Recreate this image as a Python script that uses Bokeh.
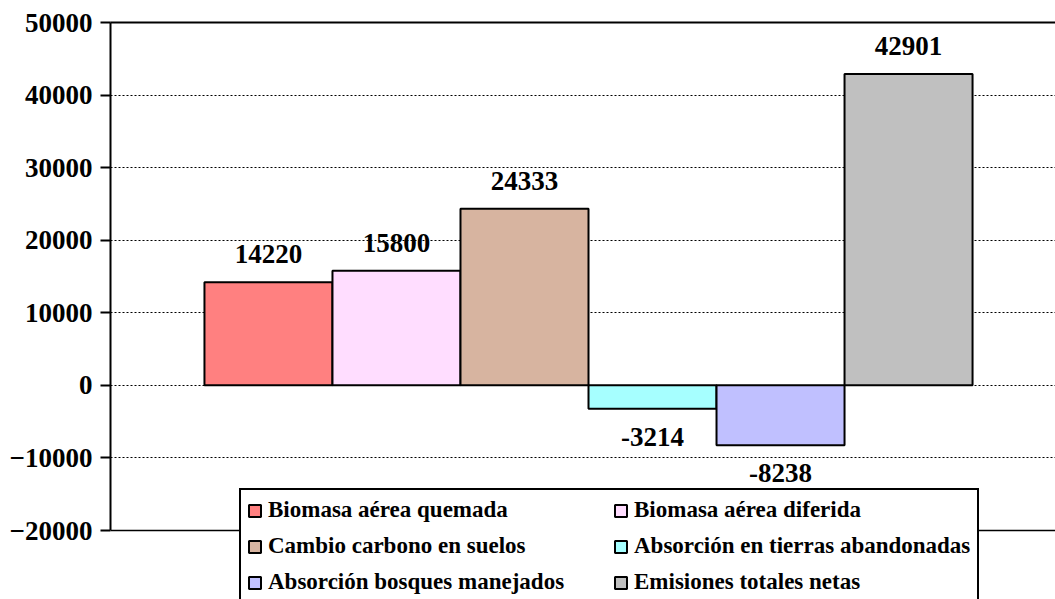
import numpy as np
from bokeh.plotting import figure
from bokeh.models import ColumnDataSource, Range1d, LinearAxis, FixedTicker, Span
from bokeh.core.properties import value
from bokeh.embed import file_html
from bokeh.resources import INLINE

categories = ["Biomasa aérea quemada", "Biomasa aérea diferida", "Cambio carbono en suelos",
              "Absorción en tierras abandonadas", "Absorción bosques manejados", "Emisiones totales netas"]
values = [14220, 15800, 24333, -3214, -8238, 42901]
colors = ["#FF8080", "#FFDDFF", "#D7B4A0", "#A6FFFF", "#C0C0FF", "#C0C0C0"]
y_ticks = [-20000, -10000, 0, 10000, 20000, 30000, 40000, 50000]
y_min, y_max = -20000, 50000

FONT = "Liberation Serif"

vals = np.array(values)
src = ColumnDataSource(dict(
    x=list(range(len(values))),
    top=values,
    color=colors,
    label=categories,
    txt=[str(v) for v in values],
    yoff=np.where(vals >= 0, -28, 28).tolist(),
))

# frame: top at 22px, y_min at 530px, extended down to canvas bottom (599px)
px_per_unit = (530 - 22) / (y_max - y_min)
y_lo = y_min - (599 - 530) / px_per_unit

p = figure(width=1055, height=599, output_backend="svg", toolbar_location=None,
           x_range=Range1d(-1.234, 6.148), y_range=Range1d(y_lo, y_max),
           min_border_left=110, min_border_right=0, min_border_top=22, min_border_bottom=0)
p.outline_line_color = None
p.background_fill_color = "white"
p.border_fill_color = "white"
p.xaxis.visible = False

# y axis
p.yaxis.ticker = FixedTicker(ticks=y_ticks)
p.yaxis.bounds = (y_min, y_max)
p.yaxis.axis_line_width = 2
p.yaxis.major_tick_line_width = 2
p.yaxis.major_tick_out = 10
p.yaxis.major_tick_in = 0
p.yaxis.minor_tick_line_color = None
p.yaxis.major_label_text_font = FONT
p.yaxis.major_label_text_font_style = "bold"
p.yaxis.major_label_text_font_size = "27px"
p.yaxis.major_label_text_color = "black"
p.yaxis.major_label_standoff = 8

top_axis = LinearAxis(ticker=FixedTicker(ticks=[]), axis_line_width=2,
                      major_label_text_font_size="0px", minor_tick_line_color=None,
                      major_tick_line_color=None)
p.add_layout(top_axis, "above")

bottom_line = Span(location=y_min, dimension="width", line_color="black",
                   line_width=1.5, level="underlay")
p.add_layout(bottom_line)

p.xgrid.visible = False
p.ygrid.ticker = FixedTicker(ticks=[t for t in y_ticks if y_min < t < y_max])
p.ygrid.grid_line_color = "black"
p.ygrid.grid_line_dash = "2 2"
p.ygrid.grid_line_width = 1.2

p.vbar(x="x", top="top", bottom=0, width=1.0, source=src, fill_color="color",
       line_color="black", line_width=2, legend_field="label")

p.text(x="x", y="top", text="txt", source=src, y_offset="yoff",
       text_font=value(FONT), text_font_style="bold", text_font_size="27px",
       text_align="center", text_baseline="middle", text_color="black")

leg = p.legend[0]
leg.orientation = "horizontal"
leg.ncols = 2
leg.location = (129, -5)
leg.border_line_color = "black"
leg.border_line_alpha = 1
leg.border_line_width = 2
leg.background_fill_color = "white"
leg.background_fill_alpha = 1
leg.label_text_font = FONT
leg.label_text_font_style = "bold"
leg.label_text_font_size = "23px"
leg.label_text_color = "black"
leg.glyph_width = 15
leg.glyph_height = 15
leg.label_standoff = 6
leg.label_height = 28
leg.label_width = 337
leg.spacing = 8
leg.padding = 6
leg.margin = 0

open("out.html", "w").write(file_html(p, INLINE))
